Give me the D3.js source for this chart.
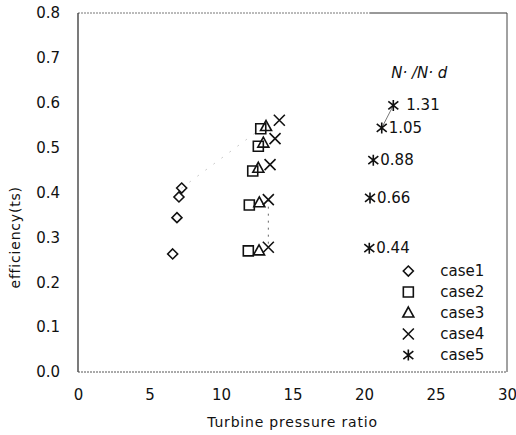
<!DOCTYPE html>
<html lang="en">
<head>
<meta charset="utf-8">
<title>Turbine efficiency</title>
<script src="https://d3js.org/d3.v7.min.js"></script>
<style>
    body { margin: 0; background: #fff; }
    text { font-family: "DejaVu Sans", sans-serif; fill: #111; }
    .tick text { font-size: 15px; }
    .axis-title { font-size: 14px; }
    .legend text { font-size: 15px; }
    .ratio { font-size: 15px; }
</style>
</head>
<body>
<div id="chart"></div>
<script>

// data
const case1 = [[7.25, 0.41], [7.06, 0.39], [6.92, 0.344], [6.62, 0.263]];
const case2 = [[12.78, 0.542], [12.61, 0.503], [12.22, 0.448], [11.98, 0.372], [11.91, 0.270]];
const case3 = [[13.15, 0.547], [12.96, 0.51], [12.61, 0.454], [12.68, 0.377], [12.66, 0.270]];
const case4 = [[14.08, 0.561], [13.78, 0.52], [13.43, 0.462], [13.31, 0.384], [13.31, 0.278]];
const case5 = [[22.05, 0.594], [21.24, 0.544], [20.65, 0.472], [20.42, 0.388], [20.37, 0.276]];
const speedLabels = ["1.31", "1.05", "0.88", "0.66", "0.44"];
const caseNames = ["case1", "case2", "case3", "case4", "case5"];
const xTicks = [0, 5, 10, 15, 20, 25, 30];
const yTicks = [0, 0.1, 0.2, 0.3, 0.4, 0.5, 0.6, 0.7, 0.8];

const W = 516, H = 435;
const margin = {top: 13, right: 9, bottom: 63, left: 78};
const width = W - margin.left - margin.right,
      height = H - margin.top - margin.bottom;

const svg = d3.select("#chart").append("svg")
    .attr("width", W).attr("height", H)
  .append("g")
    .attr("transform", `translate(${margin.left},${margin.top})`);

const x = d3.scaleLinear().domain([0, 30]).range([0, width]);
const y = d3.scaleLinear().domain([0, 0.8]).range([height, 0]);

// marker shapes
const diamond = { draw(c, s) { const r = 5; c.moveTo(0, -r); c.lineTo(r, 0); c.lineTo(0, r); c.lineTo(-r, 0); c.closePath(); } };
const square = { draw(c, s) { const r = 5; c.rect(-r, -r, 2 * r, 2 * r); } };
const triangle = { draw(c, s) { c.moveTo(0, -6); c.lineTo(5.5, 4); c.lineTo(-5.5, 4); c.closePath(); } };
const cross = { draw(c, s) { const r = 5.5; c.moveTo(-r, -r); c.lineTo(r, r); c.moveTo(r, -r); c.lineTo(-r, r); } };
const star = { draw(c, s) { const r = 5; c.moveTo(-r, -r * 0.8); c.lineTo(r, r * 0.8); c.moveTo(r, -r * 0.8); c.lineTo(-r, r * 0.8); c.moveTo(0, -r * 1.1); c.lineTo(0, r * 1.1); } };
const shapes = [diamond, square, triangle, cross, star];
const allCases = [case1, case2, case3, case4, case5];

// frame
svg.append("line").attr("x1", 0).attr("x2", x(20.4)).attr("y1", 0).attr("y2", 0)
    .attr("stroke", "#777").attr("stroke-width", 1).attr("stroke-dasharray", "2,1");
svg.append("line").attr("x1", x(20.4)).attr("x2", width).attr("y1", 0).attr("y2", 0)
    .attr("stroke", "#333").attr("stroke-width", 1);
svg.append("line").attr("x1", 0).attr("x2", 0).attr("y1", 0).attr("y2", height)
    .attr("stroke", "#222").attr("stroke-width", 1.2);
svg.append("line").attr("x1", width).attr("x2", width).attr("y1", 0).attr("y2", height)
    .attr("stroke", "#444").attr("stroke-width", 1);
svg.append("line").attr("x1", 0).attr("x2", width).attr("y1", height).attr("y2", height)
    .attr("stroke", "#555").attr("stroke-width", 1).attr("stroke-dasharray", "2,1");

// axes
svg.append("g")
    .attr("transform", `translate(0,${height})`)
    .call(d3.axisBottom(x).tickValues(xTicks).tickSize(0).tickPadding(17).tickFormat(d3.format("d")));
svg.append("g")
    .call(d3.axisLeft(y).tickValues(yTicks).tickSize(0).tickPadding(18).tickFormat(d3.format(".1f")));
svg.selectAll(".domain").remove();

svg.append("text").attr("class", "axis-title")
    .attr("x", width / 2).attr("y", height + 55)
    .attr("text-anchor", "middle")
    .style("letter-spacing", "0.8px")
    .text("Turbine pressure ratio");
svg.append("text").attr("class", "axis-title")
    .attr("transform", `translate(${-58},${y(0.3)}) rotate(-90)`)
    .attr("text-anchor", "middle")
    .style("letter-spacing", "0.8px")
    .text("efficiency(ts)");

// faint guide lines
const guide = d3.line().x(d => x(d[0])).y(d => y(d[1]));
svg.append("path").datum([case1[0], case2[0]])
    .attr("d", guide).attr("fill", "none")
    .attr("stroke", "#999").attr("stroke-width", 1).attr("stroke-dasharray", "1,9");
svg.append("path").datum([case4[3], case4[4]])
    .attr("d", guide).attr("fill", "none")
    .attr("stroke", "#666").attr("stroke-width", 1).attr("stroke-dasharray", "2,5");
svg.append("path").datum([case5[0], case5[1]])
    .attr("d", guide).attr("fill", "none")
    .attr("stroke", "#555").attr("stroke-width", 0.8);

// points
allCases.forEach((data, i) => {
    svg.append("g").selectAll("path")
        .data(data)
        .join("path")
            .attr("transform", d => `translate(${x(d[0])},${y(d[1])})`)
            .attr("d", d3.symbol().type(shapes[i]))
            .attr("fill", "none")
            .attr("stroke", "#111")
            .attr("stroke-width", 1.6);
});

// N'/N'd labels
svg.append("text").attr("class", "ratio")
    .attr("x", x(21.9)).attr("y", y(0.655))
    .style("font-style", "italic")
    .text("N· /N· d");
svg.selectAll(".ratio-label")
    .data(case5)
    .join("text")
        .attr("class", "ratio")
        .attr("x", (d, i) => x(d[0]) + (i === 0 ? 13 : 7))
        .attr("y", d => y(d[1]) + 5)
        .text((d, i) => speedLabels[i]);

// legend
const legend = svg.append("g").attr("class", "legend")
    .attr("transform", `translate(${x(23.1)},${y(0.225)})`);
const items = legend.selectAll("g")
    .data(caseNames)
    .join("g")
        .attr("transform", (d, i) => `translate(0,${i * 21})`);
items.append("path")
    .attr("d", (d, i) => d3.symbol().type(shapes[i])())
    .attr("fill", "none").attr("stroke", "#111").attr("stroke-width", 1.6);
items.append("text")
    .attr("x", 32).attr("y", 5)
    .text(d => d);

</script>
</body>
</html>
